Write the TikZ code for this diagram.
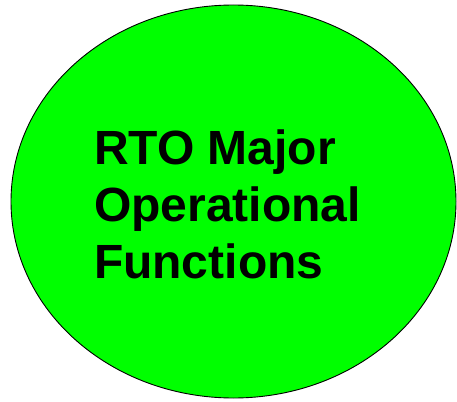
\documentclass[tikz,border=0pt]{standalone}
\usepackage{fontspec}
\setmainfont{Liberation Sans}
\usepackage{tikz}
\usetikzlibrary{shapes.geometric,positioning}
\definecolor{rtogreen}{HTML}{00FF00}
\tikzset{%
  bubble/.style={ellipse,draw=black,line width=0.9pt,fill=rtogreen,
    inner sep=0pt,outer sep=0pt},%
  title text/.style={align=left,inner sep=0pt,outer sep=0pt,
    font=\fontsize{48}{57}\selectfont\bfseries}%
}

\begin{document}
\begin{tikzpicture}[x=1pt,y=1pt] % "RTO" bubble
    \useasboundingbox (0,0) rectangle (457,-401);
    \node[bubble,minimum width=445pt,minimum height=393pt] (rto) at (233.5,-201.5) {};
    % text block, baseline of last line
    \node[title text,anchor=base west] (title) at (94,-278)
      {RTO Major\\Operational\\Functions};
\end{tikzpicture}
\end{document}
